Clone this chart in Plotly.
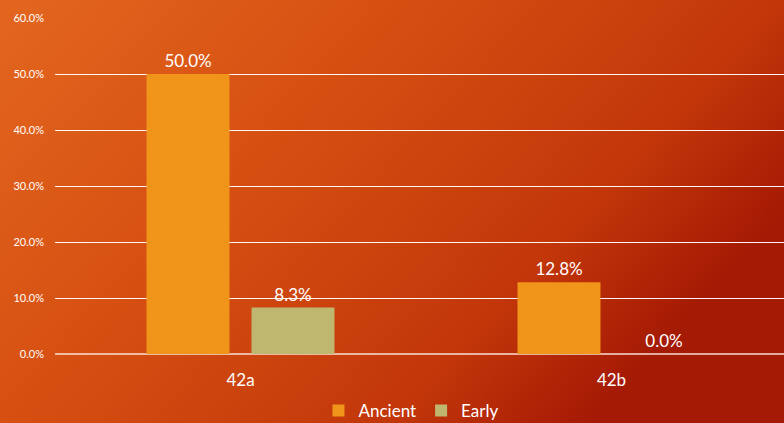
import plotly.graph_objects as go
import urllib.parse

# Share of samples by period for each site
categories = ["42a", "42b"]
ancient = [50.0, 12.8]
early = [8.3, 0.0]
y_ticks = [0, 10, 20, 30, 40, 50, 60]

W, H = 784, 423
L, R, T, B = 55, 0, 18, 69

font_family = "Lato, 'Open Sans', sans-serif"

# diagonal orange-to-red backdrop drawn as an SVG gradient
svg = (
    "<svg xmlns='http://www.w3.org/2000/svg' width='784' height='423' preserveAspectRatio='none'>"
    "<defs><linearGradient id='g' x1='0' y1='0' x2='1' y2='0.5'>"
    "<stop offset='0' stop-color='#E3661F'/>"
    "<stop offset='0.4' stop-color='#D65012'/>"
    "<stop offset='0.6' stop-color='#CC440E'/>"
    "<stop offset='0.8' stop-color='#C2360A'/>"
    "<stop offset='1' stop-color='#A51A04'/>"
    "</linearGradient></defs>"
    "<rect width='784' height='423' fill='url(#g)'/></svg>"
)
bg_src = "data:image/svg+xml;charset=utf-8," + urllib.parse.quote(svg)

pw = W - L - R
ph = H - T - B

fig = go.Figure()
fig.add_trace(go.Bar(
    name="Ancient", x=categories, y=ancient,
    marker=dict(color="#F0951A", line=dict(width=0)),
    texttemplate="%{y:.1f}%", textposition="outside",
    textfont=dict(color="white", size=17, family=font_family),
    cliponaxis=False,
))
fig.add_trace(go.Bar(
    name="Early", x=categories, y=early,
    marker=dict(color="#BFB670", line=dict(width=0)),
    texttemplate="%{y:.1f}%", textposition="outside",
    textfont=dict(color="white", size=17, family=font_family),
    cliponaxis=False,
))

fig.update_layout(
    width=W, height=H,
    margin=dict(l=L, r=R, t=T, b=B, pad=0, autoexpand=False),
    paper_bgcolor="rgba(0,0,0,0)",
    plot_bgcolor="rgba(0,0,0,0)",
    barmode="group",
    bargap=0.434,
    bargroupgap=0.21,
    font=dict(family=font_family, color="white"),
    showlegend=True,
    legend=dict(
        orientation="h", x=(411 - L) / pw, xanchor="center",
        y=-(411 - T - ph) / ph, yanchor="middle",
        font=dict(size=17, color="white"),
        itemwidth=30, traceorder="normal",
        bgcolor="rgba(0,0,0,0)",
    ),
    xaxis=dict(
        range=[-0.5, -0.5 + pw / 371],
        showgrid=False, showline=False, zeroline=False,
        ticks="", ticklabelstandoff=14,
        tickfont=dict(size=17, color="white"),
    ),
    yaxis=dict(
        range=[0, 60], tickvals=y_ticks,
        ticktext=[f"{v:.1f}%" for v in y_ticks],
        showgrid=True, gridcolor="rgba(255,255,255,0.95)", gridwidth=1,
        zeroline=True, zerolinecolor="rgba(255,235,225,0.7)", zerolinewidth=1.5,
        showline=False, ticks="", ticklabelstandoff=10,
        tickfont=dict(size=11, color="white"),
    ),
    images=[dict(
        source=bg_src, xref="paper", yref="paper",
        x=-L / pw, y=1 + T / ph, sizex=W / pw, sizey=H / ph,
        xanchor="left", yanchor="top", sizing="stretch", layer="below",
    )],
)

fig.write_html("out.html")
